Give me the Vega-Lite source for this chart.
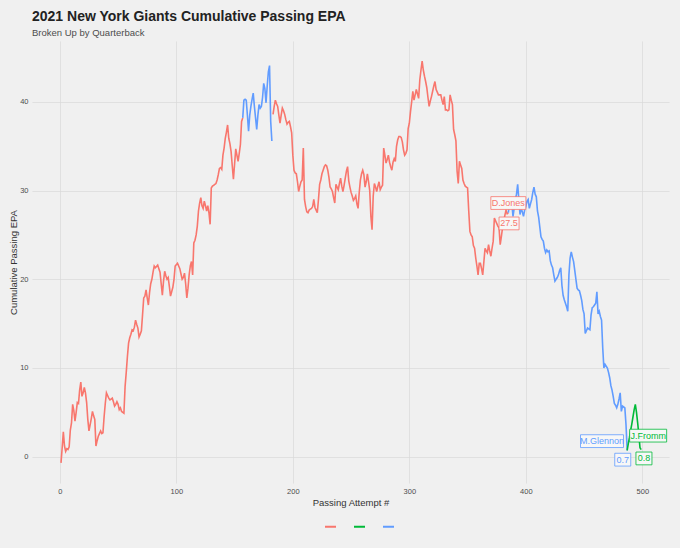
{
  "$schema": "https://vega.github.io/schema/vega-lite/v6.json",
  "width": 637,
  "height": 442,
  "autosize": {"type": "none"},
  "padding": {"left": 32, "top": 41, "right": 11, "bottom": 65},
  "background": "#f0f0f0",
  "title": {
    "text": "2021 New York Giants Cumulative Passing EPA",
    "subtitle": "Broken Up by Quarterback",
    "anchor": "start",
    "frame": "group",
    "font": "Liberation Sans",
    "fontSize": 14,
    "fontWeight": "bold",
    "color": "#222222",
    "subtitleFont": "Liberation Sans",
    "subtitleFontSize": 9.5,
    "subtitleColor": "#4d4d4d",
    "subtitlePadding": 4,
    "offset": 4
  },
  "datasets": {
    "epa": [
      {"a":1,"epa":-0.7,"qb":"D.Jones","seg":1},{"a":2,"epa":1.0,"qb":"D.Jones","seg":1},{"a":3,"epa":2.8,"qb":"D.Jones","seg":1},{"a":4,"epa":1.2,"qb":"D.Jones","seg":1},{"a":5,"epa":0.6,"qb":"D.Jones","seg":1},{"a":6,"epa":0.9,"qb":"D.Jones","seg":1},{"a":7,"epa":0.8,"qb":"D.Jones","seg":1},{"a":8,"epa":1.1,"qb":"D.Jones","seg":1},{"a":9,"epa":3.0,"qb":"D.Jones","seg":1},{"a":10,"epa":3.8,"qb":"D.Jones","seg":1},
      {"a":11,"epa":5.9,"qb":"D.Jones","seg":1},{"a":12,"epa":5.2,"qb":"D.Jones","seg":1},{"a":13,"epa":4.0,"qb":"D.Jones","seg":1},{"a":14,"epa":5.0,"qb":"D.Jones","seg":1},{"a":15,"epa":6.1,"qb":"D.Jones","seg":1},{"a":16,"epa":6.0,"qb":"D.Jones","seg":1},{"a":17,"epa":7.5,"qb":"D.Jones","seg":1},{"a":18,"epa":8.4,"qb":"D.Jones","seg":1},{"a":19,"epa":6.8,"qb":"D.Jones","seg":1},{"a":20,"epa":7.2,"qb":"D.Jones","seg":1},
      {"a":21,"epa":7.8,"qb":"D.Jones","seg":1},{"a":22,"epa":7.2,"qb":"D.Jones","seg":1},{"a":23,"epa":6.1,"qb":"D.Jones","seg":1},{"a":24,"epa":4.2,"qb":"D.Jones","seg":1},{"a":25,"epa":2.9,"qb":"D.Jones","seg":1},{"a":26,"epa":3.6,"qb":"D.Jones","seg":1},{"a":27,"epa":4.3,"qb":"D.Jones","seg":1},{"a":28,"epa":5.1,"qb":"D.Jones","seg":1},{"a":29,"epa":4.6,"qb":"D.Jones","seg":1},{"a":30,"epa":4.2,"qb":"D.Jones","seg":1},
      {"a":31,"epa":1.2,"qb":"D.Jones","seg":1},{"a":32,"epa":1.8,"qb":"D.Jones","seg":1},{"a":33,"epa":2.3,"qb":"D.Jones","seg":1},{"a":34,"epa":2.6,"qb":"D.Jones","seg":1},{"a":35,"epa":2.9,"qb":"D.Jones","seg":1},{"a":36,"epa":2.6,"qb":"D.Jones","seg":1},{"a":37,"epa":2.7,"qb":"D.Jones","seg":1},{"a":38,"epa":4.5,"qb":"D.Jones","seg":1},{"a":39,"epa":6.0,"qb":"D.Jones","seg":1},{"a":40,"epa":7.2,"qb":"D.Jones","seg":1},
      {"a":41,"epa":6.9,"qb":"D.Jones","seg":1},{"a":42,"epa":6.6,"qb":"D.Jones","seg":1},{"a":43,"epa":6.4,"qb":"D.Jones","seg":1},{"a":44,"epa":6.5,"qb":"D.Jones","seg":1},{"a":45,"epa":6.6,"qb":"D.Jones","seg":1},{"a":46,"epa":6.2,"qb":"D.Jones","seg":1},{"a":47,"epa":5.7,"qb":"D.Jones","seg":1},{"a":48,"epa":5.9,"qb":"D.Jones","seg":1},{"a":49,"epa":6.2,"qb":"D.Jones","seg":1},{"a":50,"epa":5.9,"qb":"D.Jones","seg":1},
      {"a":51,"epa":5.3,"qb":"D.Jones","seg":1},{"a":52,"epa":5.5,"qb":"D.Jones","seg":1},{"a":53,"epa":5.1,"qb":"D.Jones","seg":1},{"a":54,"epa":5.0,"qb":"D.Jones","seg":1},{"a":55,"epa":4.9,"qb":"D.Jones","seg":1},{"a":56,"epa":7.9,"qb":"D.Jones","seg":1},{"a":57,"epa":9.5,"qb":"D.Jones","seg":1},{"a":58,"epa":11.3,"qb":"D.Jones","seg":1},{"a":59,"epa":12.8,"qb":"D.Jones","seg":1},{"a":60,"epa":13.4,"qb":"D.Jones","seg":1},
      {"a":61,"epa":13.8,"qb":"D.Jones","seg":1},{"a":62,"epa":14.3,"qb":"D.Jones","seg":1},{"a":63,"epa":14.2,"qb":"D.Jones","seg":1},{"a":64,"epa":14.6,"qb":"D.Jones","seg":1},{"a":65,"epa":15.4,"qb":"D.Jones","seg":1},{"a":66,"epa":14.9,"qb":"D.Jones","seg":1},{"a":67,"epa":14.5,"qb":"D.Jones","seg":1},{"a":68,"epa":13.5,"qb":"D.Jones","seg":1},{"a":69,"epa":13.8,"qb":"D.Jones","seg":1},{"a":70,"epa":14.2,"qb":"D.Jones","seg":1},
      {"a":71,"epa":16.0,"qb":"D.Jones","seg":1},{"a":72,"epa":17.9,"qb":"D.Jones","seg":1},{"a":73,"epa":18.1,"qb":"D.Jones","seg":1},{"a":74,"epa":18.8,"qb":"D.Jones","seg":1},{"a":75,"epa":17.9,"qb":"D.Jones","seg":1},{"a":76,"epa":17.1,"qb":"D.Jones","seg":1},{"a":77,"epa":18.5,"qb":"D.Jones","seg":1},{"a":78,"epa":19.5,"qb":"D.Jones","seg":1},{"a":79,"epa":20.0,"qb":"D.Jones","seg":1},{"a":80,"epa":20.8,"qb":"D.Jones","seg":1},
      {"a":81,"epa":21.5,"qb":"D.Jones","seg":1},{"a":82,"epa":21.3,"qb":"D.Jones","seg":1},{"a":84,"epa":21.6,"qb":"D.Jones","seg":1},{"a":85,"epa":21.2,"qb":"D.Jones","seg":1},{"a":86,"epa":20.8,"qb":"D.Jones","seg":1},{"a":87,"epa":19.5,"qb":"D.Jones","seg":1},{"a":88,"epa":18.2,"qb":"D.Jones","seg":1},{"a":89,"epa":19.8,"qb":"D.Jones","seg":1},{"a":90,"epa":20.9,"qb":"D.Jones","seg":1},
      {"a":91,"epa":20.4,"qb":"D.Jones","seg":1},{"a":92,"epa":20.0,"qb":"D.Jones","seg":1},{"a":93,"epa":20.2,"qb":"D.Jones","seg":1},{"a":94,"epa":19.2,"qb":"D.Jones","seg":1},{"a":95,"epa":18.1,"qb":"D.Jones","seg":1},{"a":96,"epa":18.6,"qb":"D.Jones","seg":1},{"a":97,"epa":19.1,"qb":"D.Jones","seg":1},{"a":98,"epa":20.0,"qb":"D.Jones","seg":1},{"a":99,"epa":21.5,"qb":"D.Jones","seg":1},{"a":101,"epa":21.8,"qb":"D.Jones","seg":1},
      {"a":102,"epa":21.5,"qb":"D.Jones","seg":1},{"a":103,"epa":21.2,"qb":"D.Jones","seg":1},{"a":104,"epa":20.6,"qb":"D.Jones","seg":1},{"a":105,"epa":20.0,"qb":"D.Jones","seg":1},{"a":106,"epa":20.2,"qb":"D.Jones","seg":1},{"a":107,"epa":20.7,"qb":"D.Jones","seg":1},{"a":108,"epa":19.5,"qb":"D.Jones","seg":1},{"a":109,"epa":17.9,"qb":"D.Jones","seg":1},{"a":110,"epa":19.0,"qb":"D.Jones","seg":1},
      {"a":111,"epa":20.5,"qb":"D.Jones","seg":1},{"a":112,"epa":21.5,"qb":"D.Jones","seg":1},{"a":113,"epa":22.0,"qb":"D.Jones","seg":1},{"a":114,"epa":20.5,"qb":"D.Jones","seg":1},{"a":115,"epa":24.1,"qb":"D.Jones","seg":1},{"a":116,"epa":24.4,"qb":"D.Jones","seg":1},{"a":117,"epa":25.0,"qb":"D.Jones","seg":1},{"a":118,"epa":26.0,"qb":"D.Jones","seg":1},{"a":119,"epa":27.7,"qb":"D.Jones","seg":1},{"a":120,"epa":28.6,"qb":"D.Jones","seg":1},
      {"a":121,"epa":29.2,"qb":"D.Jones","seg":1},{"a":122,"epa":28.3,"qb":"D.Jones","seg":1},{"a":123,"epa":28.0,"qb":"D.Jones","seg":1},{"a":124,"epa":28.8,"qb":"D.Jones","seg":1},{"a":125,"epa":28.3,"qb":"D.Jones","seg":1},{"a":126,"epa":27.7,"qb":"D.Jones","seg":1},{"a":127,"epa":28.3,"qb":"D.Jones","seg":1},{"a":128,"epa":27.5,"qb":"D.Jones","seg":1},{"a":129,"epa":26.2,"qb":"D.Jones","seg":1},{"a":130,"epa":30.3,"qb":"D.Jones","seg":1},
      {"a":131,"epa":30.5,"qb":"D.Jones","seg":1},{"a":132,"epa":30.6,"qb":"D.Jones","seg":1},{"a":133,"epa":30.7,"qb":"D.Jones","seg":1},{"a":134,"epa":30.8,"qb":"D.Jones","seg":1},{"a":135,"epa":31.2,"qb":"D.Jones","seg":1},{"a":136,"epa":31.8,"qb":"D.Jones","seg":1},{"a":137,"epa":32.5,"qb":"D.Jones","seg":1},{"a":138,"epa":32.6,"qb":"D.Jones","seg":1},{"a":139,"epa":32.4,"qb":"D.Jones","seg":1},{"a":140,"epa":34.0,"qb":"D.Jones","seg":1},
      {"a":141,"epa":34.8,"qb":"D.Jones","seg":1},{"a":142,"epa":35.9,"qb":"D.Jones","seg":1},{"a":143,"epa":36.6,"qb":"D.Jones","seg":1},{"a":144,"epa":37.4,"qb":"D.Jones","seg":1},{"a":145,"epa":35.9,"qb":"D.Jones","seg":1},{"a":146,"epa":35.3,"qb":"D.Jones","seg":1},{"a":147,"epa":34.4,"qb":"D.Jones","seg":1},{"a":148,"epa":32.8,"qb":"D.Jones","seg":1},{"a":149,"epa":31.3,"qb":"D.Jones","seg":1},{"a":150,"epa":33.0,"qb":"D.Jones","seg":1},
      {"a":151,"epa":34.7,"qb":"D.Jones","seg":1},{"a":152,"epa":34.0,"qb":"D.Jones","seg":1},{"a":153,"epa":33.3,"qb":"D.Jones","seg":1},{"a":154,"epa":34.2,"qb":"D.Jones","seg":1},{"a":155,"epa":35.2,"qb":"D.Jones","seg":1},{"a":156,"epa":37.8,"qb":"D.Jones","seg":1},{"a":157,"epa":38.2,"qb":"D.Jones","seg":1},
      {"a":157,"epa":38.2,"qb":"M.Glennon","seg":2},{"a":158,"epa":40.2,"qb":"M.Glennon","seg":2},{"a":159,"epa":40.3,"qb":"M.Glennon","seg":2},{"a":160,"epa":40.2,"qb":"M.Glennon","seg":2},{"a":161,"epa":38.5,"qb":"M.Glennon","seg":2},{"a":162,"epa":36.7,"qb":"M.Glennon","seg":2},{"a":163,"epa":38.5,"qb":"M.Glennon","seg":2},{"a":164,"epa":39.5,"qb":"M.Glennon","seg":2},{"a":165,"epa":40.3,"qb":"M.Glennon","seg":2},{"a":166,"epa":41.0,"qb":"M.Glennon","seg":2},
      {"a":167,"epa":39.5,"qb":"M.Glennon","seg":2},{"a":168,"epa":38.2,"qb":"M.Glennon","seg":2},{"a":169,"epa":36.9,"qb":"M.Glennon","seg":2},{"a":170,"epa":38.5,"qb":"M.Glennon","seg":2},{"a":171,"epa":39.7,"qb":"M.Glennon","seg":2},{"a":172,"epa":39.3,"qb":"M.Glennon","seg":2},{"a":173,"epa":39.5,"qb":"M.Glennon","seg":2},{"a":174,"epa":40.5,"qb":"M.Glennon","seg":2},{"a":175,"epa":42.1,"qb":"M.Glennon","seg":2},{"a":176,"epa":41.5,"qb":"M.Glennon","seg":2},
      {"a":177,"epa":39.9,"qb":"M.Glennon","seg":2},{"a":178,"epa":41.8,"qb":"M.Glennon","seg":2},{"a":179,"epa":43.4,"qb":"M.Glennon","seg":2},{"a":180,"epa":44.1,"qb":"M.Glennon","seg":2},{"a":181,"epa":37.8,"qb":"M.Glennon","seg":2},{"a":182,"epa":35.6,"qb":"M.Glennon","seg":2},
      {"a":183,"epa":38.6,"qb":"D.Jones","seg":3},{"a":184,"epa":39.5,"qb":"D.Jones","seg":3},{"a":185,"epa":40.2,"qb":"D.Jones","seg":3},{"a":186,"epa":39.8,"qb":"D.Jones","seg":3},{"a":187,"epa":39.5,"qb":"D.Jones","seg":3},{"a":188,"epa":38.5,"qb":"D.Jones","seg":3},{"a":189,"epa":37.6,"qb":"D.Jones","seg":3},{"a":190,"epa":38.5,"qb":"D.Jones","seg":3},
      {"a":191,"epa":39.3,"qb":"D.Jones","seg":3},{"a":192,"epa":39.0,"qb":"D.Jones","seg":3},{"a":193,"epa":38.6,"qb":"D.Jones","seg":3},{"a":194,"epa":38.0,"qb":"D.Jones","seg":3},{"a":195,"epa":37.5,"qb":"D.Jones","seg":3},{"a":196,"epa":37.7,"qb":"D.Jones","seg":3},{"a":197,"epa":37.8,"qb":"D.Jones","seg":3},{"a":198,"epa":37.2,"qb":"D.Jones","seg":3},{"a":199,"epa":36.5,"qb":"D.Jones","seg":3},{"a":200,"epa":34.0,"qb":"D.Jones","seg":3},
      {"a":201,"epa":32.3,"qb":"D.Jones","seg":3},{"a":202,"epa":32.0,"qb":"D.Jones","seg":3},{"a":203,"epa":31.9,"qb":"D.Jones","seg":3},{"a":204,"epa":31.0,"qb":"D.Jones","seg":3},{"a":205,"epa":29.9,"qb":"D.Jones","seg":3},{"a":206,"epa":30.5,"qb":"D.Jones","seg":3},{"a":207,"epa":31.0,"qb":"D.Jones","seg":3},{"a":208,"epa":31.2,"qb":"D.Jones","seg":3},{"a":209,"epa":34.8,"qb":"D.Jones","seg":3},{"a":210,"epa":29.0,"qb":"D.Jones","seg":3},
      {"a":211,"epa":28.2,"qb":"D.Jones","seg":3},{"a":212,"epa":27.6,"qb":"D.Jones","seg":3},{"a":213,"epa":27.5,"qb":"D.Jones","seg":3},{"a":214,"epa":27.8,"qb":"D.Jones","seg":3},{"a":215,"epa":27.9,"qb":"D.Jones","seg":3},{"a":216,"epa":28.0,"qb":"D.Jones","seg":3},{"a":217,"epa":28.2,"qb":"D.Jones","seg":3},{"a":218,"epa":29.0,"qb":"D.Jones","seg":3},{"a":219,"epa":28.1,"qb":"D.Jones","seg":3},{"a":220,"epa":27.8,"qb":"D.Jones","seg":3},
      {"a":221,"epa":27.5,"qb":"D.Jones","seg":3},{"a":222,"epa":29.0,"qb":"D.Jones","seg":3},{"a":223,"epa":30.7,"qb":"D.Jones","seg":3},{"a":224,"epa":31.2,"qb":"D.Jones","seg":3},{"a":225,"epa":31.9,"qb":"D.Jones","seg":3},{"a":226,"epa":32.3,"qb":"D.Jones","seg":3},{"a":227,"epa":32.7,"qb":"D.Jones","seg":3},{"a":228,"epa":32.9,"qb":"D.Jones","seg":3},{"a":229,"epa":32.8,"qb":"D.Jones","seg":3},{"a":230,"epa":32.3,"qb":"D.Jones","seg":3},
      {"a":231,"epa":31.5,"qb":"D.Jones","seg":3},{"a":232,"epa":30.4,"qb":"D.Jones","seg":3},{"a":233,"epa":30.2,"qb":"D.Jones","seg":3},{"a":234,"epa":29.9,"qb":"D.Jones","seg":3},{"a":235,"epa":29.2,"qb":"D.Jones","seg":3},{"a":236,"epa":28.6,"qb":"D.Jones","seg":3},{"a":237,"epa":30.7,"qb":"D.Jones","seg":3},{"a":238,"epa":30.4,"qb":"D.Jones","seg":3},{"a":239,"epa":30.1,"qb":"D.Jones","seg":3},{"a":240,"epa":30.8,"qb":"D.Jones","seg":3},
      {"a":241,"epa":31.4,"qb":"D.Jones","seg":3},{"a":242,"epa":30.5,"qb":"D.Jones","seg":3},{"a":243,"epa":29.9,"qb":"D.Jones","seg":3},{"a":244,"epa":30.6,"qb":"D.Jones","seg":3},{"a":245,"epa":31.4,"qb":"D.Jones","seg":3},{"a":246,"epa":32.2,"qb":"D.Jones","seg":3},{"a":247,"epa":32.7,"qb":"D.Jones","seg":3},{"a":248,"epa":31.1,"qb":"D.Jones","seg":3},{"a":249,"epa":30.4,"qb":"D.Jones","seg":3},{"a":250,"epa":29.8,"qb":"D.Jones","seg":3},
      {"a":251,"epa":29.4,"qb":"D.Jones","seg":3},{"a":252,"epa":28.9,"qb":"D.Jones","seg":3},{"a":253,"epa":29.1,"qb":"D.Jones","seg":3},{"a":254,"epa":29.4,"qb":"D.Jones","seg":3},{"a":255,"epa":28.5,"qb":"D.Jones","seg":3},{"a":256,"epa":28.0,"qb":"D.Jones","seg":3},{"a":257,"epa":29.8,"qb":"D.Jones","seg":3},{"a":258,"epa":31.2,"qb":"D.Jones","seg":3},{"a":259,"epa":31.9,"qb":"D.Jones","seg":3},{"a":260,"epa":32.3,"qb":"D.Jones","seg":3},
      {"a":261,"epa":31.8,"qb":"D.Jones","seg":3},{"a":262,"epa":30.4,"qb":"D.Jones","seg":3},{"a":263,"epa":31.0,"qb":"D.Jones","seg":3},{"a":264,"epa":31.9,"qb":"D.Jones","seg":3},{"a":265,"epa":31.0,"qb":"D.Jones","seg":3},{"a":266,"epa":30.0,"qb":"D.Jones","seg":3},{"a":267,"epa":27.1,"qb":"D.Jones","seg":3},{"a":268,"epa":25.6,"qb":"D.Jones","seg":3},{"a":269,"epa":29.4,"qb":"D.Jones","seg":3},{"a":270,"epa":30.8,"qb":"D.Jones","seg":3},
      {"a":271,"epa":30.4,"qb":"D.Jones","seg":3},{"a":272,"epa":29.9,"qb":"D.Jones","seg":3},{"a":273,"epa":30.5,"qb":"D.Jones","seg":3},{"a":274,"epa":31.0,"qb":"D.Jones","seg":3},{"a":275,"epa":30.1,"qb":"D.Jones","seg":3},{"a":276,"epa":30.4,"qb":"D.Jones","seg":3},{"a":277,"epa":30.6,"qb":"D.Jones","seg":3},{"a":278,"epa":34.8,"qb":"D.Jones","seg":3},{"a":279,"epa":34.0,"qb":"D.Jones","seg":3},{"a":280,"epa":33.1,"qb":"D.Jones","seg":3},
      {"a":281,"epa":33.5,"qb":"D.Jones","seg":3},{"a":282,"epa":34.0,"qb":"D.Jones","seg":3},{"a":283,"epa":33.2,"qb":"D.Jones","seg":3},{"a":284,"epa":32.7,"qb":"D.Jones","seg":3},{"a":285,"epa":32.3,"qb":"D.Jones","seg":3},{"a":286,"epa":33.2,"qb":"D.Jones","seg":3},{"a":287,"epa":33.6,"qb":"D.Jones","seg":3},{"a":288,"epa":33.3,"qb":"D.Jones","seg":3},{"a":289,"epa":35.0,"qb":"D.Jones","seg":3},{"a":290,"epa":35.7,"qb":"D.Jones","seg":3},
      {"a":291,"epa":36.1,"qb":"D.Jones","seg":3},{"a":292,"epa":36.1,"qb":"D.Jones","seg":3},{"a":293,"epa":36.0,"qb":"D.Jones","seg":3},{"a":294,"epa":35.5,"qb":"D.Jones","seg":3},{"a":295,"epa":34.6,"qb":"D.Jones","seg":3},{"a":296,"epa":34.0,"qb":"D.Jones","seg":3},{"a":297,"epa":34.2,"qb":"D.Jones","seg":3},{"a":298,"epa":34.6,"qb":"D.Jones","seg":3},{"a":299,"epa":37.0,"qb":"D.Jones","seg":3},{"a":300,"epa":37.6,"qb":"D.Jones","seg":3},
      {"a":301,"epa":38.9,"qb":"D.Jones","seg":3},{"a":302,"epa":40.0,"qb":"D.Jones","seg":3},{"a":303,"epa":41.2,"qb":"D.Jones","seg":3},{"a":304,"epa":40.2,"qb":"D.Jones","seg":3},{"a":305,"epa":40.8,"qb":"D.Jones","seg":3},{"a":306,"epa":41.4,"qb":"D.Jones","seg":3},{"a":307,"epa":40.9,"qb":"D.Jones","seg":3},{"a":308,"epa":40.4,"qb":"D.Jones","seg":3},{"a":309,"epa":42.5,"qb":"D.Jones","seg":3},{"a":310,"epa":43.6,"qb":"D.Jones","seg":3},
      {"a":311,"epa":44.6,"qb":"D.Jones","seg":3},{"a":312,"epa":43.6,"qb":"D.Jones","seg":3},{"a":313,"epa":42.9,"qb":"D.Jones","seg":3},{"a":314,"epa":42.3,"qb":"D.Jones","seg":3},{"a":315,"epa":41.6,"qb":"D.Jones","seg":3},{"a":316,"epa":40.5,"qb":"D.Jones","seg":3},{"a":317,"epa":39.5,"qb":"D.Jones","seg":3},{"a":318,"epa":40.1,"qb":"D.Jones","seg":3},{"a":319,"epa":40.6,"qb":"D.Jones","seg":3},{"a":320,"epa":41.2,"qb":"D.Jones","seg":3},
      {"a":321,"epa":41.8,"qb":"D.Jones","seg":3},{"a":322,"epa":42.3,"qb":"D.Jones","seg":3},{"a":323,"epa":41.4,"qb":"D.Jones","seg":3},{"a":324,"epa":41.1,"qb":"D.Jones","seg":3},{"a":325,"epa":40.8,"qb":"D.Jones","seg":3},{"a":326,"epa":40.8,"qb":"D.Jones","seg":3},{"a":327,"epa":40.8,"qb":"D.Jones","seg":3},{"a":328,"epa":40.2,"qb":"D.Jones","seg":3},{"a":329,"epa":39.7,"qb":"D.Jones","seg":3},{"a":330,"epa":40.6,"qb":"D.Jones","seg":3},
      {"a":331,"epa":39.1,"qb":"D.Jones","seg":3},{"a":332,"epa":39.1,"qb":"D.Jones","seg":3},{"a":333,"epa":39.0,"qb":"D.Jones","seg":3},{"a":334,"epa":39.1,"qb":"D.Jones","seg":3},{"a":335,"epa":40.8,"qb":"D.Jones","seg":3},{"a":336,"epa":40.2,"qb":"D.Jones","seg":3},{"a":337,"epa":39.7,"qb":"D.Jones","seg":3},{"a":338,"epa":36.9,"qb":"D.Jones","seg":3},{"a":339,"epa":36.3,"qb":"D.Jones","seg":3},{"a":340,"epa":35.6,"qb":"D.Jones","seg":3},
      {"a":341,"epa":32.2,"qb":"D.Jones","seg":3},{"a":342,"epa":30.8,"qb":"D.Jones","seg":3},{"a":343,"epa":33.3,"qb":"D.Jones","seg":3},{"a":344,"epa":32.9,"qb":"D.Jones","seg":3},{"a":345,"epa":32.5,"qb":"D.Jones","seg":3},{"a":346,"epa":31.2,"qb":"D.Jones","seg":3},{"a":347,"epa":30.8,"qb":"D.Jones","seg":3},{"a":348,"epa":30.5,"qb":"D.Jones","seg":3},{"a":349,"epa":30.4,"qb":"D.Jones","seg":3},{"a":350,"epa":30.3,"qb":"D.Jones","seg":3},
      {"a":351,"epa":27.7,"qb":"D.Jones","seg":3},{"a":352,"epa":25.4,"qb":"D.Jones","seg":3},{"a":353,"epa":25.0,"qb":"D.Jones","seg":3},{"a":354,"epa":24.8,"qb":"D.Jones","seg":3},{"a":355,"epa":23.8,"qb":"D.Jones","seg":3},{"a":356,"epa":23.5,"qb":"D.Jones","seg":3},{"a":357,"epa":22.4,"qb":"D.Jones","seg":3},{"a":358,"epa":21.5,"qb":"D.Jones","seg":3},{"a":359,"epa":20.5,"qb":"D.Jones","seg":3},{"a":360,"epa":21.8,"qb":"D.Jones","seg":3},
      {"a":361,"epa":21.8,"qb":"D.Jones","seg":3},{"a":362,"epa":21.2,"qb":"D.Jones","seg":3},{"a":363,"epa":20.5,"qb":"D.Jones","seg":3},{"a":364,"epa":22.0,"qb":"D.Jones","seg":3},{"a":365,"epa":23.5,"qb":"D.Jones","seg":3},{"a":366,"epa":23.2,"qb":"D.Jones","seg":3},{"a":367,"epa":23.0,"qb":"D.Jones","seg":3},{"a":368,"epa":23.9,"qb":"D.Jones","seg":3},{"a":369,"epa":23.2,"qb":"D.Jones","seg":3},{"a":370,"epa":22.6,"qb":"D.Jones","seg":3},
      {"a":371,"epa":23.5,"qb":"D.Jones","seg":3},{"a":372,"epa":24.3,"qb":"D.Jones","seg":3},{"a":373,"epa":26.9,"qb":"D.Jones","seg":3},{"a":374,"epa":26.6,"qb":"D.Jones","seg":3},{"a":375,"epa":26.3,"qb":"D.Jones","seg":3},{"a":376,"epa":26.0,"qb":"D.Jones","seg":3},{"a":377,"epa":25.8,"qb":"D.Jones","seg":3},{"a":378,"epa":23.9,"qb":"D.Jones","seg":3},{"a":379,"epa":24.8,"qb":"D.Jones","seg":3},{"a":380,"epa":25.8,"qb":"D.Jones","seg":3},
      {"a":381,"epa":26.5,"qb":"D.Jones","seg":3},{"a":382,"epa":27.2,"qb":"D.Jones","seg":3},{"a":383,"epa":27.8,"qb":"D.Jones","seg":3},{"a":384,"epa":27.4,"qb":"D.Jones","seg":3},{"a":385,"epa":27.5,"qb":"D.Jones","seg":3},
      {"a":385,"epa":27.5,"qb":"M.Glennon","seg":4},{"a":386,"epa":28.8,"qb":"M.Glennon","seg":4},{"a":387,"epa":28.0,"qb":"M.Glennon","seg":4},{"a":388,"epa":28.5,"qb":"M.Glennon","seg":4},{"a":389,"epa":27.1,"qb":"M.Glennon","seg":4},{"a":390,"epa":28.0,"qb":"M.Glennon","seg":4},
      {"a":391,"epa":29.0,"qb":"M.Glennon","seg":4},{"a":392,"epa":29.6,"qb":"M.Glennon","seg":4},{"a":393,"epa":30.7,"qb":"M.Glennon","seg":4},{"a":394,"epa":29.0,"qb":"M.Glennon","seg":4},{"a":395,"epa":27.3,"qb":"M.Glennon","seg":4},{"a":396,"epa":28.0,"qb":"M.Glennon","seg":4},{"a":397,"epa":27.6,"qb":"M.Glennon","seg":4},{"a":398,"epa":27.1,"qb":"M.Glennon","seg":4},{"a":399,"epa":27.8,"qb":"M.Glennon","seg":4},{"a":400,"epa":28.2,"qb":"M.Glennon","seg":4},
      {"a":401,"epa":28.8,"qb":"M.Glennon","seg":4},{"a":402,"epa":29.0,"qb":"M.Glennon","seg":4},{"a":403,"epa":28.0,"qb":"M.Glennon","seg":4},{"a":404,"epa":28.5,"qb":"M.Glennon","seg":4},{"a":405,"epa":29.0,"qb":"M.Glennon","seg":4},{"a":406,"epa":29.8,"qb":"M.Glennon","seg":4},{"a":407,"epa":30.4,"qb":"M.Glennon","seg":4},{"a":408,"epa":29.6,"qb":"M.Glennon","seg":4},{"a":409,"epa":29.3,"qb":"M.Glennon","seg":4},{"a":410,"epa":27.7,"qb":"M.Glennon","seg":4},
      {"a":411,"epa":27.0,"qb":"M.Glennon","seg":4},{"a":412,"epa":25.9,"qb":"M.Glennon","seg":4},{"a":413,"epa":24.8,"qb":"M.Glennon","seg":4},{"a":414,"epa":24.5,"qb":"M.Glennon","seg":4},{"a":415,"epa":24.3,"qb":"M.Glennon","seg":4},{"a":416,"epa":23.5,"qb":"M.Glennon","seg":4},{"a":417,"epa":23.0,"qb":"M.Glennon","seg":4},{"a":418,"epa":23.3,"qb":"M.Glennon","seg":4},{"a":419,"epa":23.1,"qb":"M.Glennon","seg":4},{"a":420,"epa":23.2,"qb":"M.Glennon","seg":4},
      {"a":421,"epa":22.1,"qb":"M.Glennon","seg":4},{"a":422,"epa":21.6,"qb":"M.Glennon","seg":4},{"a":423,"epa":21.3,"qb":"M.Glennon","seg":4},{"a":424,"epa":20.5,"qb":"M.Glennon","seg":4},{"a":425,"epa":19.8,"qb":"M.Glennon","seg":4},{"a":426,"epa":20.0,"qb":"M.Glennon","seg":4},{"a":427,"epa":20.2,"qb":"M.Glennon","seg":4},{"a":428,"epa":20.5,"qb":"M.Glennon","seg":4},{"a":429,"epa":21.0,"qb":"M.Glennon","seg":4},{"a":430,"epa":21.3,"qb":"M.Glennon","seg":4},
      {"a":431,"epa":19.3,"qb":"M.Glennon","seg":4},{"a":432,"epa":18.2,"qb":"M.Glennon","seg":4},{"a":433,"epa":17.7,"qb":"M.Glennon","seg":4},{"a":434,"epa":17.3,"qb":"M.Glennon","seg":4},{"a":435,"epa":16.9,"qb":"M.Glennon","seg":4},{"a":436,"epa":16.4,"qb":"M.Glennon","seg":4},{"a":437,"epa":20.5,"qb":"M.Glennon","seg":4},{"a":438,"epa":22.4,"qb":"M.Glennon","seg":4},{"a":439,"epa":23.1,"qb":"M.Glennon","seg":4},{"a":440,"epa":22.5,"qb":"M.Glennon","seg":4},
      {"a":441,"epa":22.0,"qb":"M.Glennon","seg":4},{"a":442,"epa":21.0,"qb":"M.Glennon","seg":4},{"a":443,"epa":20.0,"qb":"M.Glennon","seg":4},{"a":444,"epa":19.0,"qb":"M.Glennon","seg":4},{"a":445,"epa":18.8,"qb":"M.Glennon","seg":4},{"a":446,"epa":18.7,"qb":"M.Glennon","seg":4},{"a":447,"epa":18.2,"qb":"M.Glennon","seg":4},{"a":448,"epa":17.6,"qb":"M.Glennon","seg":4},{"a":449,"epa":16.6,"qb":"M.Glennon","seg":4},{"a":450,"epa":16.1,"qb":"M.Glennon","seg":4},
      {"a":451,"epa":13.9,"qb":"M.Glennon","seg":4},{"a":452,"epa":14.2,"qb":"M.Glennon","seg":4},{"a":453,"epa":14.5,"qb":"M.Glennon","seg":4},{"a":454,"epa":14.4,"qb":"M.Glennon","seg":4},{"a":455,"epa":14.3,"qb":"M.Glennon","seg":4},{"a":456,"epa":16.0,"qb":"M.Glennon","seg":4},{"a":457,"epa":16.8,"qb":"M.Glennon","seg":4},{"a":458,"epa":16.9,"qb":"M.Glennon","seg":4},{"a":459,"epa":17.1,"qb":"M.Glennon","seg":4},{"a":460,"epa":17.3,"qb":"M.Glennon","seg":4},
      {"a":461,"epa":18.6,"qb":"M.Glennon","seg":4},{"a":462,"epa":16.1,"qb":"M.Glennon","seg":4},{"a":463,"epa":16.4,"qb":"M.Glennon","seg":4},{"a":464,"epa":15.8,"qb":"M.Glennon","seg":4},{"a":465,"epa":15.4,"qb":"M.Glennon","seg":4},{"a":466,"epa":12.3,"qb":"M.Glennon","seg":4},{"a":467,"epa":10.0,"qb":"M.Glennon","seg":4},{"a":468,"epa":10.4,"qb":"M.Glennon","seg":4},{"a":469,"epa":10.2,"qb":"M.Glennon","seg":4},{"a":470,"epa":10.0,"qb":"M.Glennon","seg":4},
      {"a":471,"epa":9.5,"qb":"M.Glennon","seg":4},{"a":472,"epa":8.9,"qb":"M.Glennon","seg":4},{"a":473,"epa":8.0,"qb":"M.Glennon","seg":4},{"a":474,"epa":7.5,"qb":"M.Glennon","seg":4},{"a":475,"epa":6.8,"qb":"M.Glennon","seg":4},{"a":476,"epa":6.0,"qb":"M.Glennon","seg":4},{"a":477,"epa":5.8,"qb":"M.Glennon","seg":4},{"a":478,"epa":5.5,"qb":"M.Glennon","seg":4},{"a":479,"epa":5.9,"qb":"M.Glennon","seg":4},{"a":480,"epa":6.5,"qb":"M.Glennon","seg":4},
      {"a":481,"epa":7.2,"qb":"M.Glennon","seg":4},{"a":482,"epa":5.1,"qb":"M.Glennon","seg":4},{"a":483,"epa":5.7,"qb":"M.Glennon","seg":4},{"a":484,"epa":5.6,"qb":"M.Glennon","seg":4},{"a":485,"epa":5.5,"qb":"M.Glennon","seg":4},{"a":486,"epa":3.6,"qb":"M.Glennon","seg":4},{"a":487,"epa":0.7,"qb":"M.Glennon","seg":4},
      {"a":487,"epa":0.7,"qb":"J.Fromm","seg":5},{"a":488,"epa":1.5,"qb":"J.Fromm","seg":5},{"a":489,"epa":2.2,"qb":"J.Fromm","seg":5},{"a":490,"epa":3.0,"qb":"J.Fromm","seg":5},{"a":491,"epa":3.7,"qb":"J.Fromm","seg":5},{"a":492,"epa":4.5,"qb":"J.Fromm","seg":5},{"a":493,"epa":5.3,"qb":"J.Fromm","seg":5},{"a":494,"epa":5.9,"qb":"J.Fromm","seg":5},{"a":495,"epa":5.0,"qb":"J.Fromm","seg":5},{"a":496,"epa":3.8,"qb":"J.Fromm","seg":5},{"a":497,"epa":2.5,"qb":"J.Fromm","seg":5},{"a":498,"epa":1.0,"qb":"J.Fromm","seg":5},{"a":499,"epa":0.8,"qb":"J.Fromm","seg":5}
    ],
    "labels": [
      {"a":385,"epa":28.6,"lab":"D.Jones","qb":"D.Jones"},
      {"a":385.6,"epa":26.3,"lab":"27.5","qb":"D.Jones"},
      {"a":465.4,"epa":1.75,"lab":"M.Glennon","qb":"M.Glennon"},
      {"a":483.2,"epa":-0.34,"lab":"0.7","qb":"M.Glennon"},
      {"a":505,"epa":2.37,"lab":"J.Fromm","qb":"J.Fromm"},
      {"a":501.4,"epa":-0.2,"lab":"0.8","qb":"J.Fromm"}
    ]
  },
  "layer": [
    {
      "data": {"name": "epa"},
      "mark": {"type": "line", "strokeWidth": 1.6},
      "encoding": {
        "x": {
          "field": "a",
          "type": "quantitative",
          "title": "Passing Attempt #",
          "scale": {"domain": [-23.9, 522.9], "nice": false, "zero": false},
          "axis": {"values": [0, 100, 200, 300, 400, 500], "titlePadding": 3}
        },
        "y": {
          "field": "epa",
          "type": "quantitative",
          "title": "Cumulative Passing EPA",
          "scale": {"domain": [-2.97, 46.87], "nice": false, "zero": false},
          "axis": {"values": [0, 10, 20, 30, 40], "titlePadding": 1}
        },
        "color": {
          "field": "qb",
          "type": "nominal",
          "scale": {"domain": ["D.Jones", "J.Fromm", "M.Glennon"], "range": ["#F8766D", "#00BA38", "#619CFF"]},
          "legend": {
            "orient": "none",
            "direction": "horizontal",
            "legendX": 292,
            "legendY": 479,
            "title": null,
            "labelExpr": "''",
            "labelOffset": 0,
            "columnPadding": 10,
            "symbolType": "stroke",
            "symbolSize": 121,
            "symbolStrokeWidth": 2,
            "padding": 0
          }
        },
        "detail": {"field": "seg", "type": "nominal"}
      }
    },
    {
      "data": {"name": "labels"},
      "mark": {"type": "point", "filled": true, "fill": "#f7f7f7", "opacity": 1, "strokeWidth": 0.8, "size": 1600},
      "encoding": {
        "x": {"field": "a", "type": "quantitative"},
        "y": {"field": "epa", "type": "quantitative"},
        "stroke": {
          "field": "qb",
          "type": "nominal",
          "scale": {"domain": ["D.Jones", "J.Fromm", "M.Glennon"], "range": ["#F8766D", "#00BA38", "#619CFF"]},
          "legend": null
        },
        "shape": {
          "field": "lab",
          "type": "nominal",
          "scale": {
            "domain": ["D.Jones", "27.5", "M.Glennon", "0.7", "J.Fromm", "0.8"],
            "range": [
              "M-0.875,-0.32H0.875V0.32H-0.875Z",
              "M-0.5,-0.32H0.5V0.32H-0.5Z",
              "M-1.075,-0.32H1.075V0.32H-1.075Z",
              "M-0.4,-0.32H0.4V0.32H-0.4Z",
              "M-0.925,-0.32H0.925V0.32H-0.925Z",
              "M-0.4,-0.32H0.4V0.32H-0.4Z"
            ]
          },
          "legend": null
        }
      }
    },
    {
      "data": {"name": "labels"},
      "mark": {"type": "text", "font": "Liberation Sans", "fontSize": 9, "baseline": "middle", "align": "center"},
      "encoding": {
        "x": {"field": "a", "type": "quantitative"},
        "y": {"field": "epa", "type": "quantitative"},
        "text": {"field": "lab"},
        "fill": {
          "field": "qb",
          "type": "nominal",
          "scale": {"domain": ["D.Jones", "J.Fromm", "M.Glennon"], "range": ["#F8766D", "#00BA38", "#619CFF"]},
          "legend": null
        }
      }
    }
  ],
  "config": {
    "view": {"stroke": null},
    "font": "Liberation Sans",
    "axis": {
      "domain": false,
      "ticks": false,
      "grid": true,
      "gridColor": "#d9d9d9",
      "gridWidth": 0.7,
      "labelFont": "Liberation Sans",
      "labelFontSize": 7.5,
      "labelColor": "#4d4d4d",
      "labelPadding": 4,
      "titleFont": "Liberation Sans",
      "titleFontSize": 9.5,
      "titleFontWeight": "normal",
      "titleColor": "#333333"
    }
  }
}
